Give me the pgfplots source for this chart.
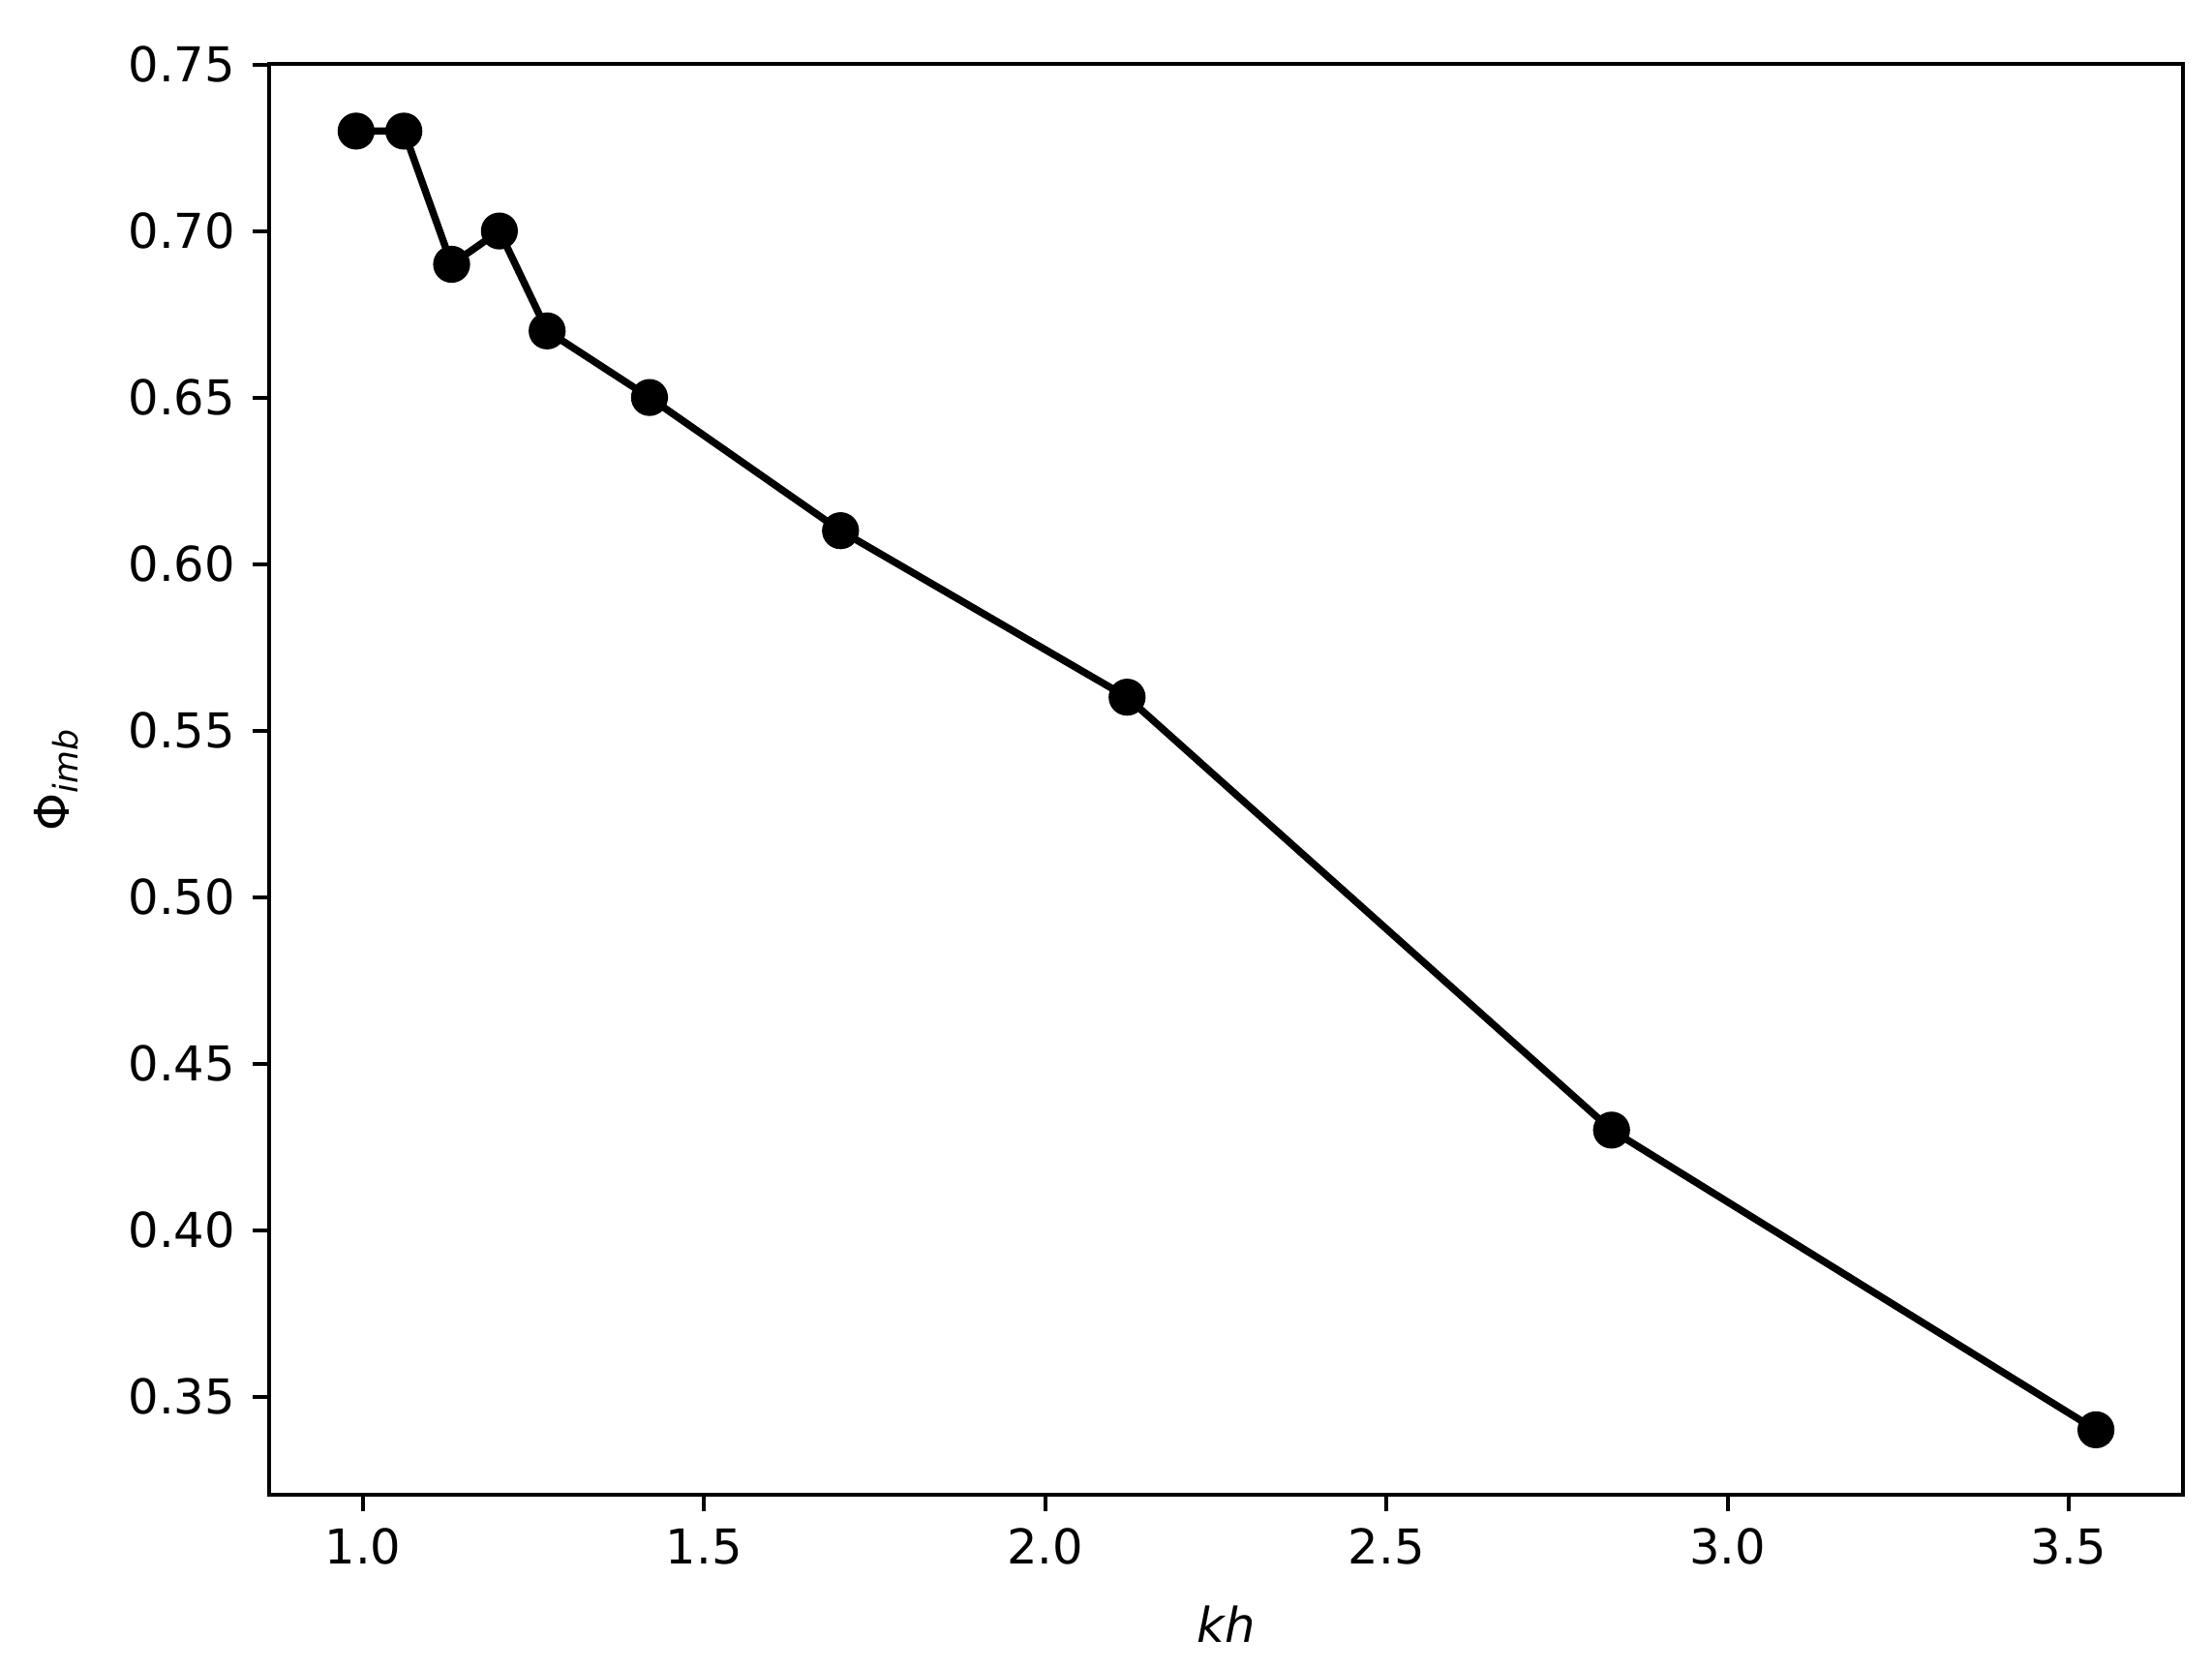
\documentclass[border=0pt]{standalone}
\usepackage{pgfplots}
\pgfplotsset{compat=1.18}
\usepackage{fontspec}
\setmainfont{DejaVu Sans}
\begin{document}
\begin{tikzpicture}
\begin{axis}[
  scale only axis,
  width=398.6pt, height=298pt,
  xmin=0.8625, xmax=3.6675, ymin=0.3205, ymax=0.7502,
  xtick={1.0,1.5,2.0,2.5,3.0,3.5},
  ytick={0.35,0.40,0.45,0.50,0.55,0.60,0.65,0.70,0.75},
  xticklabel style={/pgf/number format/.cd, fixed, fixed zerofill, precision=1},
  yticklabel style={/pgf/number format/.cd, fixed, fixed zerofill, precision=2},
  /pgf/number format/assume math mode=true,
  tick align=outside, tick pos=left,
  major tick length=3.5pt,
  tick style={line width=0.8pt, black},
  axis line style={line width=0.8pt},
  ticklabel style={font=\fontsize{10}{12}\selectfont},
  xlabel={\textit{kh}},
  ylabel={Φ\textsubscript{\textit{imb}}},
  xlabel style={at={(axis description cs:0.5,-0.1030)}, anchor=base, font=\fontsize{10}{12}\selectfont},
  ylabel style={at={(axis description cs:-0.1045,0.5)}, anchor=base, rotate=0, font=\fontsize{10}{12}\selectfont},
]
\addplot[black, line width=1.5pt, mark=*, mark size=3.1pt, mark options={solid, fill=black}]
coordinates {
(0.99,0.73) (1.06,0.73) (1.13,0.69) (1.20,0.70) (1.27,0.67)
(1.42,0.65) (1.70,0.61) (2.12,0.56) (2.83,0.43) (3.54,0.34)
};
\end{axis}
\pgfresetboundingbox
\path (current axis.south west) ++(-56.05pt,-36.29pt) coordinate (bbA);
\path (current axis.north east) ++(6.05pt,13.3pt) coordinate (bbB);
\useasboundingbox (bbA) rectangle (bbB);
\end{tikzpicture}
\end{document}
